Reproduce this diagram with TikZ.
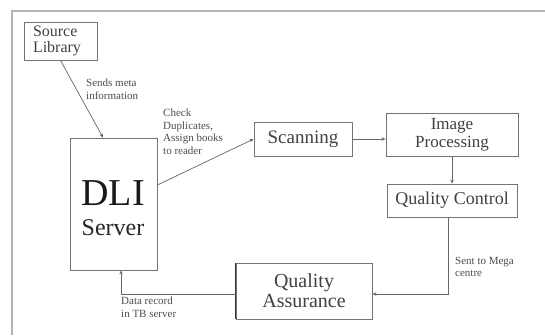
\documentclass[tikz,border=0pt]{standalone}
\usepackage{fontspec}
\setmainfont{Liberation Serif}
\usetikzlibrary{arrows.meta}
\begin{document}
\begin{tikzpicture}[x=1pt,y=-1pt,
  box/.style={draw=black!55, line width=0.8pt, inner sep=0pt, align=center, text=black!75},
  lbl/.style={inner sep=0pt, align=left, anchor=north west, text=black!70, font=\fontsize{11}{12.5}\selectfont},
  conn/.style={draw=black!60, line width=0.7pt, -{Stealth[length=4pt,width=3.5pt]}},
  frame/.style={draw=black!30, line width=2pt}]
\useasboundingbox (0,0) rectangle (545,335);
\draw[frame] (12,335) coordinate (fb) -- (12,11) coordinate (fc) -- (545,11) coordinate (fr);
\node[box, minimum width=73pt, minimum height=38pt, align=left, text width=55pt, font=\fontsize{16}{16}\selectfont] (src) at (60.5,41) {Source\\Library};
\node[box, minimum width=87pt, minimum height=132pt] (dli) at (113.5,204) {};
\node[text=black!90, font=\fontsize{38}{38}\selectfont, inner sep=0pt] (dlit) at (113,193) {DLI};
\node[text=black!85, font=\fontsize{24}{24}\selectfont, inner sep=0pt] (dlis) at (113,228) {Server};
\node[box, minimum width=98pt, minimum height=34pt, font=\fontsize{19}{19}\selectfont] (scan) at (303,139) {Scanning};
\node[box, minimum width=132pt, minimum height=43pt, font=\fontsize{17}{18}\selectfont] (img) at (452,134.5) {Image\\Processing};
\node[box, minimum width=130pt, minimum height=33pt, font=\fontsize{18}{18}\selectfont] (qc) at (452,200.5) {Quality Control};
\node[box, minimum width=136pt, minimum height=56pt, font=\fontsize{20}{20}\selectfont] (qa) at (304,291) {Quality\\Assurance};
\draw[black!80, line width=1.2pt] (qa.north west) -- (qa.south west);
\node[lbl] (l1) at (86,79) {Sends meta\\information};
\node[lbl] (l2) at (163,109) {Check\\Duplicates,\\Assign books\\to reader};
\node[lbl] (l3) at (455,257) {Sent to Mega\\centre};
\node[lbl] (l4) at (121,297) {Data record\\in TB server};
\draw[conn] (src.south) -- (103,137.6);
\draw[conn] (dli.east |- 0,185) -- (scan.west);
\draw[conn] (scan.east) -- (scan.east -| img.west);
\draw[conn] (img.south) -- (qc.north);
\coordinate (c1) at (448,294);
\coordinate (c2) at (121,294);
\draw[conn] (qc.south -| c1) -- (c1) -- (c1 -| qa.east);
\draw[conn] (qa.west |- c2) -- (c2) -- (c2 |- dli.south);
\end{tikzpicture}
\end{document}
